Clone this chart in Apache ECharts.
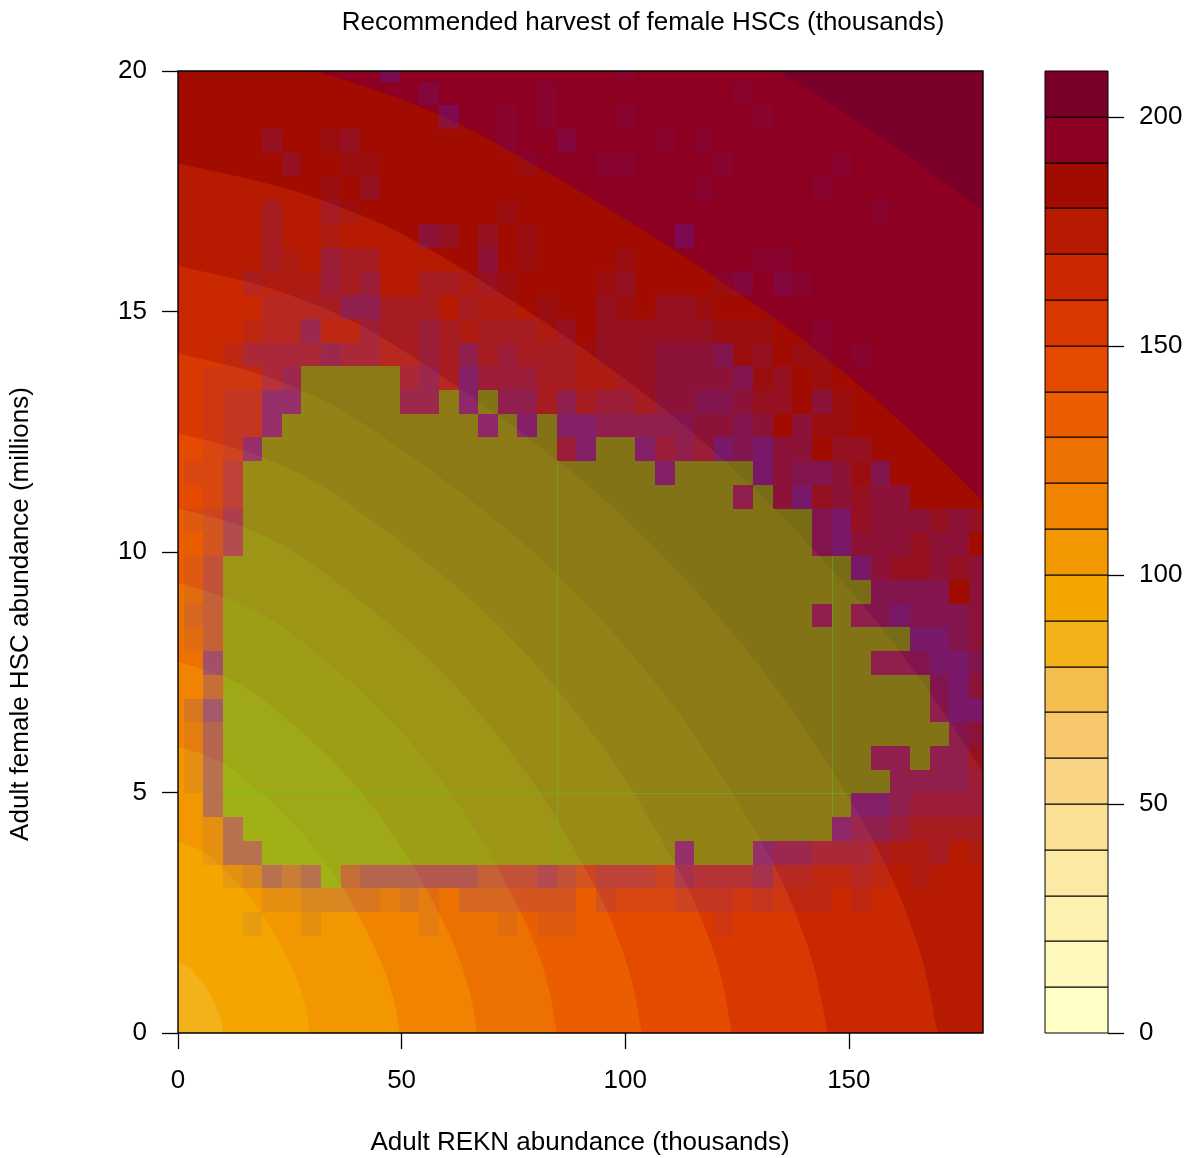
<!DOCTYPE html>
<html>
<head>
<meta charset="utf-8">
<title>Recommended harvest of female HSCs</title>
<script src="https://cdn.jsdelivr.net/npm/echarts@6/dist/echarts.min.js"></script>
<style>
  html, body { margin: 0; padding: 0; background: #ffffff; }
  #chart { width: 1189px; height: 1158px; }
</style>
</head>
<body>
<div id="chart"></div>
<script>
// ---- data -----------------------------------------------------------------
// Harvest contour levels (thousands of female HSCs) and the boundary curve of
// each level, as [REKN (thousands), HSC (millions)] points from the y side to the x side.
const contourLevels = [90, 100, 110, 120, 130, 140, 150, 160, 170, 180, 190, 200];
const contourCurves = [
  [[0, 1.48], [1.52, 1.42], [3.03, 1.31], [5.56, 1.04], [7.58, 0.74], [9.09, 0.41], [9.80, 0.19], [10.1, 0]],
  [[0, 3.98], [4.43, 3.82], [8.85, 3.53], [16.2, 2.81], [22.1, 1.98], [26.6, 1.10], [28.6, 0.50], [29.5, 0]],
  [[0, 5.95], [7.44, 5.72], [14.9, 5.28], [27.3, 4.20], [37.2, 2.96], [44.6, 1.65], [48.1, 0.75], [49.6, 0]],
  [[0, 7.72], [10.0, 7.42], [20.1, 6.85], [36.8, 5.44], [50.2, 3.84], [60.2, 2.14], [64.9, 0.97], [66.9, 0]],
  [[0, 9.35], [12.7, 8.98], [25.4, 8.30], [46.6, 6.59], [63.5, 4.65], [76.2, 2.59], [82.2, 1.18], [84.7, 0]],
  [[0, 10.91], [15.6, 10.48], [31.1, 9.68], [57.0, 7.69], [77.8, 5.42], [93.3, 3.03], [100.6, 1.37], [103.7, 0]],
  [[0, 12.47], [18.6, 11.98], [37.2, 11.06], [68.1, 8.79], [92.9, 6.20], [111.5, 3.46], [120.2, 1.57], [123.9, 0]],
  [[0, 14.13], [21.8, 13.58], [43.6, 12.54], [79.9, 9.96], [109.0, 7.02], [130.8, 3.92], [140.9, 1.78], [145.3, 0]],
  [[0, 15.95], [25.5, 15.33], [51.0, 14.15], [93.4, 11.25], [127.4, 7.93], [152.9, 4.43], [164.8, 2.01], [169.9, 0]],
  [[0, 18.08], [30.5, 17.37], [60.9, 16.04], [111.7, 12.75], [152.3, 8.99], [182.7, 5.02], [196.9, 2.28], [203, 0]],
  [[0, 20.6], [37.7, 19.80], [75.3, 18.28], [138.1, 14.53], [188.3, 10.24], [225.9, 5.72], [243.5, 2.60], [251, 0]],
  [[0, 25.0], [47.0, 24.0], [93.9, 22.18], [172.2, 17.63], [234.8, 12.43], [281.7, 6.94], [303.6, 3.15], [313, 0]]
];
// Colour-key breaks (every 10 thousand, 0 to 210)
const keyBreaks = [0, 10, 20, 30, 40, 50, 60, 70, 80, 90, 100, 110, 120, 130, 140, 150, 160, 170, 180, 190, 200, 210];
const xTicks = [0, 50, 100, 150];
const yTicks = [0, 5, 10, 15, 20];
const keyTicks = [0, 50, 100, 150, 200];

// Policy grid drawn over the surface, one string per grid row (top row first),
// one character per column: '.' none, 'G' green policy, '1'..'5' purple policy weight.
const policyRows = [
  ".......... .3........ ...1...... .......... ..",
  ".......... ...2.....1 .........1 .......... ..",
  ".......... ....3..1.1 ...1...... 1......... ..",
  ".....2..12 .......1.. 2....1.1.. .......... ..",
  "......2..1 1.......1. ..11....1. ....1..... ..",
  "........1. 2......... .......1.. ...1...... ..",
  ".....2..21 .......1.. .......... ......1... ..",
  ".....2..1. ...32.2.1. ......3... .......... ..",
  ".....21.32 2.....3.1. ...1...... 11........ ..",
  "....211132 3..22121.. ..12....12 .21....... ..",
  ".....22224 4222.211.1 ..21.221.. .......... ..",
  "....122411 3223212221 2.22222211 1..1...... ..",
  "...1333343 3223242322 2122233341 2.11.1.... ..",
  "..11134GGG GG34253332 2112233334 12.1...... ..",
  "..12255GGG GG44G5G442 4233233443 22.31..... ..",
  "..1225GGGG GGGGGG5G5G 5544444334 3.311..... ..",
  "..125GGGGG GGGGGGGGGG 35GG534354 533.22.... ..",
  ".113GGGGGG GGGGGGGGGG GGGGG5GGGG 5344314... ..",
  "..13GGGGGG GGGGGGGGGG GGGGGGGGG4 G3523233.. ..",
  ".124GGGGGG GGGGGGGGGG GGGGGGGGGG GGG4523332 32",
  "..24GGGGGG GGGGGGGGGG GGGGGGGGGG GGG4533323 3.",
  ".13GGGGGGG GGGGGGGGGG GGGGGGGGGG GGGGG53223 23",
  ".13GGGGGGG GGGGGGGGGG GGGGGGGGGG GGGGGG4444 .3",
  ".23GGGGGGG GGGGGGGGGG GGGGGGGGGG GGG4G44544 43",
  ".13GGGGGGG GGGGGGGGGG GGGGGGGGGG GGGGGGGG55 43",
  "..5GGGGGGG GGGGGGGGGG GGGGGGGGGG GGGGGG4445 54",
  "..3GGGGGGG GGGGGGGGGG GGGGGGGGGG GGGGGGGGG4 53",
  ".25GGGGGGG GGGGGGGGGG GGGGGGGGGG GGGGGGGGG4 55",
  ".14GGGGGGG GGGGGGGGGG GGGGGGGGGG GGGGGGGGGG 43",
  ".14GGGGGGG GGGGGGGGGG GGGGGGGGGG GGGGGG44G4 42",
  ".14GGGGGGG GGGGGGGGGG GGGGGGGGGG GGGGGGG444 43",
  "..4GGGGGGG GGGGGGGGGG GGGGGGGGGG GGGGG55433 33",
  "..14GGGGGG GGGGGGGGGG GGGGGGGGGG GGGG544322 22",
  "..144GGGGG GGGGGGGGGG GGGGGG5GGG 5443332112 .1",
  "...12434G3 4444443334 3233324333 4221121.1. ..",
  ".....11222 2121.22222 2.21112221 2111.1.... ..",
  "....1..1.. ...1...1.1 1.......1. .......... ..",
  ".......... .......... .......... .......... ..",
  ".......... .......... .......... .......... ..",
  ".......... .......... .......... .......... ..",
  ".......... .......... .......... .......... ..",
  ".......... .......... .......... .......... .."
];
// Joins between the blocks that make up the green policy area:
// [orientation, grid line index, first cell, last cell]
const policySeams = [
  ['v', 19, 17, 33],
  ['v', 33, 21, 31],
  ['h', 30, 3, 34]
];

// ---- styling --------------------------------------------------------------
const bandColors = [
  '#FFFFC8', '#FEF8BD', '#FDF1B0', '#FCE9A3', '#FADF95', '#F8D484', '#F7C86B',
  '#F5BD4E', '#F4B21A', '#F4A500', '#F29700', '#F08400', '#ED7100', '#EA5E00',
  '#E44A00', '#D93800', '#C92800', '#B61A00', '#A20C00', '#8D0021', '#7B0029'
];
const GREEN = 'rgba(78, 204, 44, 0.5)';
const SEAM = 'rgba(78, 204, 44, 0.45)';
const PURPLE_RGB = '70, 40, 230';
const PURPLE_ALPHA = [0, 0.07, 0.14, 0.24, 0.34, 0.45];
const FONT = '"Liberation Sans", Arial, Helvetica, sans-serif';

// Policy grid geometry in data units (column 1 starts at CELL_X0, row 1 ends at CELL_Y1)
const CELL_W = 4.39;
const CELL_H = 0.4933;
const CELL_X0 = 1.27;
const CELL_Y1 = 19.78;

// ---- helpers --------------------------------------------------------------
function splineThrough(pts) {
  // Catmull-Rom spline through pixel points, as cubic Bezier commands
  let d = '';
  for (let i = 0; i < pts.length - 1; i++) {
    const p0 = pts[i - 1] || pts[i];
    const p1 = pts[i];
    const p2 = pts[i + 1];
    const p3 = pts[i + 2] || pts[i + 1];
    const c1x = p1[0] + (p2[0] - p0[0]) / 6, c1y = p1[1] + (p2[1] - p0[1]) / 6;
    const c2x = p2[0] - (p3[0] - p1[0]) / 6, c2y = p2[1] - (p3[1] - p1[1]) / 6;
    d += ' C' + c1x + ',' + c1y + ' ' + c2x + ',' + c2y + ' ' + p2[0] + ',' + p2[1];
  }
  return d;
}

function clipRect(cs) {
  return { type: 'rect', shape: { x: cs.x, y: cs.y, width: cs.width, height: cs.height } };
}

// Bands are painted from the highest level down; each item fills the area under its curve.
const bandItems = [[210]].concat(contourLevels.slice().reverse().map(function (l) { return [l]; }));

function renderBand(params, api) {
  const level = api.value(0);
  const cs = params.coordSys;
  const color = bandColors[Math.round(level / 10) - 1];
  if (level >= keyBreaks[keyBreaks.length - 1]) {
    return { type: 'rect', shape: { x: cs.x, y: cs.y, width: cs.width, height: cs.height },
             style: { fill: color } };
  }
  const curve = contourCurves[contourLevels.indexOf(level)];
  const pts = curve.map(function (p) { return api.coord(p); });
  const o = api.coord([0, 0]);
  let d = 'M' + o[0] + ',' + o[1] + ' L' + pts[0][0] + ',' + pts[0][1];
  d += splineThrough(pts);
  d += ' Z';
  return { type: 'path', shape: { pathData: d }, style: { fill: color }, clipPath: clipRect(cs) };
}

// Policy cells
const policyCells = [];
policyRows.forEach(function (row, t) {
  const s = row.replace(/ /g, '');
  for (let c = 0; c < s.length; c++) {
    const ch = s[c];
    if (ch === '.') continue;
    policyCells.push([c, t, ch === 'G' ? 0 : Number(ch)]);
  }
});

function cellEdgeX(api, c) { return Math.round(api.coord([CELL_X0 + (c - 1) * CELL_W, 0])[0]); }
function cellEdgeY(api, t) { return Math.round(api.coord([0, CELL_Y1 - (t - 1) * CELL_H])[1]); }

function renderCell(params, api) {
  const c = api.value(0), t = api.value(1), code = api.value(2);
  const cs = params.coordSys;
  const left = Math.max(cellEdgeX(api, c), cs.x);
  const right = Math.min(cellEdgeX(api, c + 1), cs.x + cs.width);
  const top = Math.max(cellEdgeY(api, t), cs.y);
  const bottom = Math.min(cellEdgeY(api, t + 1), cs.y + cs.height);
  if (right <= left || bottom <= top) return null;
  const fill = code === 0 ? GREEN : 'rgba(' + PURPLE_RGB + ',' + PURPLE_ALPHA[code] + ')';
  return { type: 'rect', shape: { x: left, y: top, width: right - left, height: bottom - top },
           style: { fill: fill } };
}

function renderSeam(params, api) {
  const s = policySeams[params.dataIndex];
  let shape;
  if (s[0] === 'v') {
    const x = cellEdgeX(api, s[1] + 1) + 0.5;
    shape = { x1: x, y1: cellEdgeY(api, s[2]), x2: x, y2: cellEdgeY(api, s[3] + 1) };
  } else {
    const y = cellEdgeY(api, s[1] + 1) + 0.5;
    shape = { x1: cellEdgeX(api, s[2]), y1: y, x2: cellEdgeX(api, s[3] + 1), y2: y };
  }
  return { type: 'line', shape: shape, style: { stroke: SEAM, lineWidth: 1 } };
}

function renderFrame(params) {
  const cs = params.coordSys;
  return { type: 'rect', shape: { x: cs.x, y: cs.y, width: cs.width, height: cs.height },
           style: { fill: 'none', stroke: '#000', lineWidth: 1.4 } };
}

// Colour key: one box per 10-unit band
const keyItems = keyBreaks.slice(0, -1).map(function (v, i) { return [v, i]; });
function renderKey(params, api) {
  const lo = api.value(0), i = api.value(1);
  const a = api.coord([0, lo + 10]);
  const b = api.coord([1, lo]);
  const top = Math.round(a[1]), bottom = Math.round(b[1]);
  return { type: 'rect', shape: { x: Math.round(a[0]), y: top, width: Math.round(b[0]) - Math.round(a[0]), height: bottom - top },
           style: { fill: bandColors[i], stroke: '#000', lineWidth: 1 } };
}

// ---- chart ----------------------------------------------------------------
const chart = echarts.init(document.getElementById('chart'), null, { renderer: 'canvas' });

const axisCommon = {
  axisLine: { show: false, onZero: false },
  splitLine: { show: false },
  axisTick: { show: true, inside: false, length: 16, lineStyle: { color: '#000', width: 1.3 } },
  axisLabel: { color: '#000', fontSize: 26, fontFamily: FONT }
};

chart.setOption({
  animation: false,
  backgroundColor: '#ffffff',
  textStyle: { fontFamily: FONT },
  grid: [
    { left: 178, top: 71, width: 805, height: 962, containLabel: false, outerBoundsMode: 'none', show: false },
    { left: 1045, top: 71, width: 63, height: 962, containLabel: false, outerBoundsMode: 'none', show: false }
  ],
  xAxis: [
    Object.assign({}, axisCommon, {
      gridIndex: 0, type: 'value', min: 0, max: 180, interval: 50, position: 'bottom',
      axisTick: Object.assign({}, axisCommon.axisTick, { customValues: xTicks }),
      axisLabel: Object.assign({}, axisCommon.axisLabel, { customValues: xTicks, margin: 35,
        formatter: function (v) { return xTicks.indexOf(v) >= 0 ? String(v) : ''; } })
    }),
    { gridIndex: 1, type: 'value', min: 0, max: 1, show: false }
  ],
  yAxis: [
    Object.assign({}, axisCommon, {
      gridIndex: 0, type: 'value', min: 0, max: 20, interval: 5, position: 'left',
      axisTick: Object.assign({}, axisCommon.axisTick, { customValues: yTicks }),
      axisLabel: Object.assign({}, axisCommon.axisLabel, { customValues: yTicks, margin: 31 })
    }),
    Object.assign({}, axisCommon, {
      gridIndex: 1, type: 'value', min: 0, max: 210, interval: 50, position: 'right',
      axisTick: Object.assign({}, axisCommon.axisTick, { customValues: keyTicks }),
      axisLabel: Object.assign({}, axisCommon.axisLabel, { customValues: keyTicks, margin: 31,
        formatter: function (v) { return keyTicks.indexOf(v) >= 0 ? String(v) : ''; } })
    })
  ],
  graphic: [
    { type: 'text', x: 643, y: 23, z: 10,
      style: { text: 'Recommended harvest of female HSCs (thousands)', fill: '#000',
               font: '26px ' + FONT, align: 'center', verticalAlign: 'middle' } },
    { type: 'text', x: 580, y: 1143, z: 10,
      style: { text: 'Adult REKN abundance (thousands)', fill: '#000',
               font: '26px ' + FONT, align: 'center', verticalAlign: 'middle' } },
    { type: 'text', x: 21, y: 614, rotation: Math.PI / 2, z: 10,
      style: { text: 'Adult female HSC abundance (millions)', fill: '#000',
               font: '26px ' + FONT, align: 'center', verticalAlign: 'middle' } }
  ],
  series: [
    { type: 'custom', name: 'harvest', xAxisIndex: 0, yAxisIndex: 0, clip: true, z: 1,
      progressive: 0, data: bandItems, renderItem: renderBand, silent: true },
    { type: 'custom', name: 'policy', xAxisIndex: 0, yAxisIndex: 0, clip: true, z: 2,
      progressive: 0, data: policyCells, renderItem: renderCell, silent: true },
    { type: 'custom', name: 'seams', xAxisIndex: 0, yAxisIndex: 0, z: 3,
      data: policySeams.map(function (s, i) { return [i]; }), renderItem: renderSeam, silent: true },
    { type: 'custom', name: 'frame', xAxisIndex: 0, yAxisIndex: 0, z: 5,
      data: [[0, 0]], renderItem: renderFrame, silent: true },
    { type: 'custom', name: 'key', xAxisIndex: 1, yAxisIndex: 1, z: 2,
      progressive: 0, data: keyItems, renderItem: renderKey, silent: true }
  ]
});
</script>
</body>
</html>
